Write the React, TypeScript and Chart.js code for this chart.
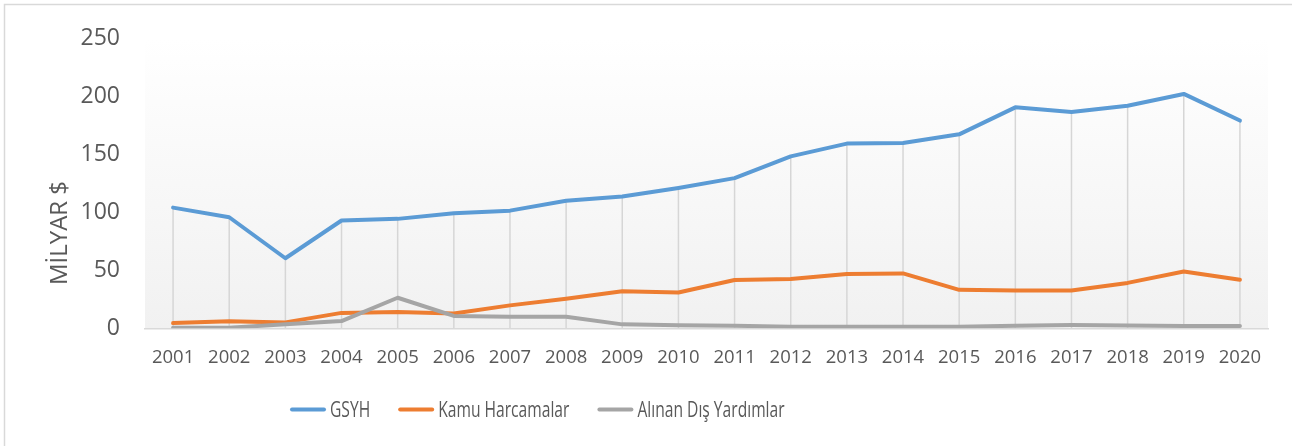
import React, { useEffect, useRef } from "react";
import { Chart, registerables } from "chart.js";

Chart.register(...registerables);

const years = [
  "2001", "2002", "2003", "2004", "2005", "2006", "2007", "2008", "2009", "2010",
  "2011", "2012", "2013", "2014", "2015", "2016", "2017", "2018", "2019", "2020",
];
const gsyh = [104.2, 95.9, 60.5, 93.1, 94.5, 99.3, 101.6, 110.1, 113.8, 121.2, 129.7, 148.5, 159.5, 160, 167.5, 190.8, 186.8, 192.2, 202.4, 179.4];
const kamuHarcamalar = [4.5, 6, 5.1, 13.3, 14.1, 12.8, 19.8, 25.5, 32, 30.9, 41.7, 42.6, 46.8, 47.4, 33.2, 32.6, 32.6, 39.2, 49.1, 42];
const disYardimlar = [0.5, 0.5, 3.4, 6.2, 26.4, 10.7, 9.9, 9.9, 3.4, 2.6, 2.2, 1.4, 1.4, 1.4, 1.4, 2.2, 2.8, 2.4, 2, 2];
const seriesLabels = ["GSYH", "Kamu Harcamalar", "Alınan Dış Yardımlar"];
const seriesColors = ["#5b9bd5", "#ed7d31", "#a5a5a5"];
const yMin = 0;
const yMax = 250;
const yStep = 50;
const yAxisTitle = "MİLYAR $";

const FONT = "'Open Sans', 'Liberation Sans', sans-serif";
const TEXT = "#595959";

const decorPlugin = {
  id: "decor",
  beforeDraw(chart: any) {
    const { ctx, chartArea: a, width, height } = chart;
    ctx.save();
    ctx.fillStyle = "#ffffff";
    ctx.fillRect(0, 0, width, height);
    // outer chart border (only top/left visible)
    ctx.strokeStyle = "#d9d9d9";
    ctx.lineWidth = 1.5;
    ctx.beginPath();
    ctx.moveTo(4.5, height + 2);
    ctx.lineTo(4.5, 4.5);
    ctx.lineTo(width + 2, 4.5);
    ctx.stroke();
    // plot area gradient
    const g = ctx.createLinearGradient(0, a.top, 0, a.bottom);
    g.addColorStop(0, "#ffffff");
    g.addColorStop(1, "#f1f1f1");
    ctx.fillStyle = g;
    ctx.fillRect(a.left, a.top, a.right - a.left, a.bottom - a.top);
    // drop lines
    const metas = chart.data.datasets.map((_: any, i: number) => chart.getDatasetMeta(i));
    const n = chart.data.labels.length;
    ctx.strokeStyle = "#d6d6d6";
    ctx.lineWidth = 1.5;
    for (let i = 0; i < n; i++) {
      let top = a.bottom;
      let x = 0;
      metas.forEach((m: any) => {
        const p = m.data[i];
        if (p) {
          x = p.x;
          top = Math.min(top, p.y);
        }
      });
      ctx.beginPath();
      ctx.moveTo(x, top);
      ctx.lineTo(x, a.bottom);
      ctx.stroke();
    }
    ctx.restore();
  },
  afterDraw(chart: any) {
    const { ctx } = chart;
    ctx.save();
    // y axis title
    ctx.fillStyle = TEXT;
    ctx.font = `24px ${FONT}`;
    ctx.textAlign = "center";
    ctx.textBaseline = "alphabetic";
    ctx.translate(67, 233);
    ctx.rotate(-Math.PI / 2);
    ctx.fillText(yAxisTitle, 0, 0);
    ctx.restore();

    // legend
    ctx.save();
    const squeeze = 0.71;
    let x = 290;
    const lineY = 409.5;
    const baseY = 417;
    ctx.font = `22px ${FONT}`;
    ctx.textBaseline = "alphabetic";
    ctx.textAlign = "left";
    chart.data.datasets.forEach((ds: any) => {
      ctx.strokeStyle = ds.borderColor;
      ctx.lineWidth = 4;
      ctx.lineCap = "round";
      ctx.beginPath();
      ctx.moveTo(x + 2, lineY);
      ctx.lineTo(x + 34, lineY);
      ctx.stroke();
      x += 40;
      const w = ctx.measureText(ds.label).width * squeeze;
      ctx.save();
      ctx.translate(x, baseY);
      ctx.scale(squeeze, 1);
      ctx.fillStyle = TEXT;
      ctx.fillText(ds.label, 0, 0);
      ctx.restore();
      x += w + 28;
    });
    ctx.restore();
  },
};

export default function App() {
  const ref = useRef<HTMLCanvasElement | null>(null);

  useEffect(() => {
    document.body.style.margin = "0";
    if (!ref.current) return;
    const series = [gsyh, kamuHarcamalar, disYardimlar];
    const chart = new Chart(ref.current, {
      type: "line",
      data: {
        labels: years,
        datasets: series.map((d, i) => ({
          label: seriesLabels[i],
          data: d,
          borderColor: seriesColors[i],
          backgroundColor: seriesColors[i],
          borderWidth: 4,
          pointRadius: 0,
          pointHoverRadius: 0,
          tension: 0,
          fill: false,
          borderJoinStyle: "round" as const,
          borderCapStyle: "round" as const,
          order: 3 - i,
        })),
      },
      options: {
        responsive: false,
        animation: false,
        layout: { padding: { top: 34.8, right: 24, bottom: 57.7, left: 0 } },
        plugins: {
          legend: { display: false },
          tooltip: { enabled: false },
          title: { display: false },
        },
        scales: {
          x: {
            type: "category",
            offset: true,
            grid: { display: false, drawTicks: false },
            border: { display: true, color: "#d9d9d9", width: 1.5 },
            ticks: {
              font: { family: FONT, size: 18.5 },
              color: TEXT,
              padding: 18,
              maxRotation: 0,
              autoSkip: false,
            },
            afterFit: (s: any) => {
              s.height = 60;
            },
          },
          y: {
            min: yMin,
            max: yMax,
            grid: { display: false, drawTicks: false },
            border: { display: false },
            ticks: {
              stepSize: yStep,
              font: { family: FONT, size: 23 },
              color: TEXT,
              padding: 25,
            },
            afterFit: (s: any) => {
              s.width = 145;
            },
          },
        },
      },
      plugins: [decorPlugin],
    });
    return () => chart.destroy();
  }, []);

  return (
    <div style={{ width: 1292, height: 446, overflow: "hidden", background: "#fff" }}>
      <canvas ref={ref} width={1292} height={446} style={{ display: "block" }} />
    </div>
  );
}
